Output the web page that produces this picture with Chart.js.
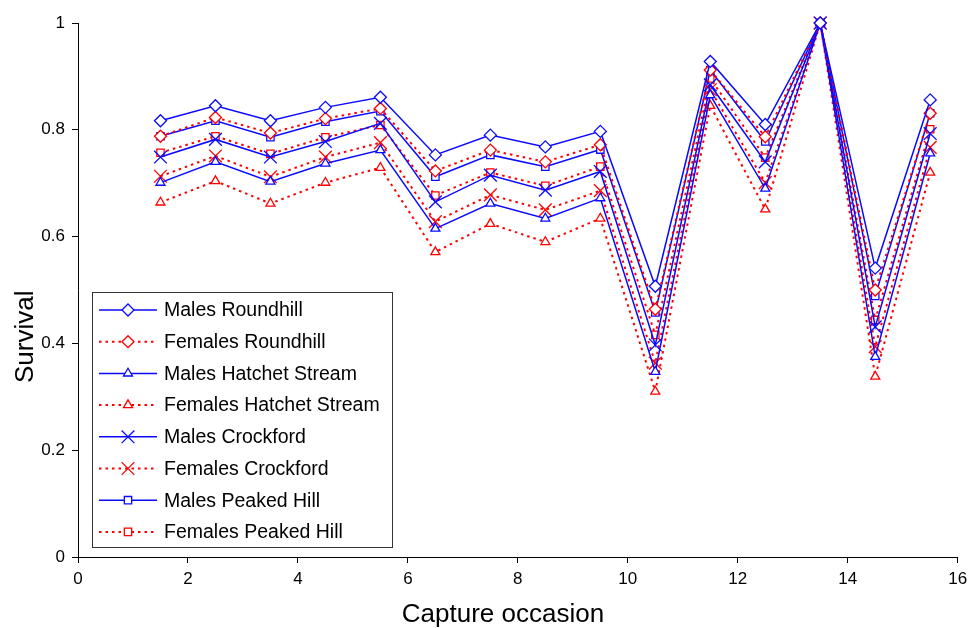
<!DOCTYPE html>
<html>
<head>
<meta charset="utf-8">
<script src="https://cdn.jsdelivr.net/npm/chart.js@4/dist/chart.umd.min.js"></script>
<style>
  html, body { margin: 0; padding: 0; background: #fff; }
</style>
</head>
<body>
<canvas id="survivalChart" width="968" height="628"></canvas>
<script>
const FONT = "'Liberation Sans', Arial, sans-serif";

const occasions = [1.5, 2.5, 3.5, 4.5, 5.5, 6.5, 7.5, 8.5, 9.5, 10.5, 11.5, 12.5, 13.5, 14.5, 15.5];

const malesRoundhill    = [0.817, 0.845, 0.817, 0.842, 0.861, 0.753, 0.790, 0.768, 0.797, 0.507, 0.928, 0.810, 1.0, 0.541, 0.856];
const femalesRoundhill  = [0.788, 0.823, 0.794, 0.821, 0.840, 0.723, 0.762, 0.740, 0.772, 0.464, 0.912, 0.787, 1.0, 0.500, 0.831];
const malesHatchet      = [0.701, 0.740, 0.703, 0.737, 0.762, 0.615, 0.662, 0.634, 0.672, 0.347, 0.865, 0.690, 1.0, 0.375, 0.756];
const femalesHatchet    = [0.664, 0.704, 0.662, 0.701, 0.729, 0.571, 0.624, 0.590, 0.634, 0.310, 0.845, 0.651, 1.0, 0.338, 0.720];
const malesCrockford    = [0.749, 0.782, 0.749, 0.778, 0.812, 0.665, 0.715, 0.687, 0.722, 0.397, 0.884, 0.740, 1.0, 0.431, 0.793];
const femalesCrockford  = [0.713, 0.751, 0.712, 0.749, 0.776, 0.628, 0.678, 0.650, 0.686, 0.363, 0.875, 0.701, 1.0, 0.394, 0.767];
const malesPeakedHill   = [0.788, 0.817, 0.786, 0.815, 0.835, 0.712, 0.753, 0.731, 0.763, 0.458, 0.912, 0.778, 1.0, 0.489, 0.831];
const femalesPeakedHill = [0.757, 0.788, 0.755, 0.786, 0.809, 0.677, 0.720, 0.695, 0.731, 0.416, 0.896, 0.748, 1.0, 0.444, 0.801];

const seriesLabels = [
  "Males Roundhill", "Females Roundhill",
  "Males Hatchet Stream", "Females Hatchet Stream",
  "Males Crockford", "Females Crockford",
  "Males Peaked Hill", "Females Peaked Hill"
];
const seriesValues = [
  malesRoundhill, femalesRoundhill,
  malesHatchet, femalesHatchet,
  malesCrockford, femalesCrockford,
  malesPeakedHill, femalesPeakedHill
];

const BLUE = "#0a0aff";
const RED = "#ff0000";
const markers = [
  { style: "rectRot", radius: 6 },
  { style: "rectRot", radius: 6 },
  { style: "triangle", radius: 5.2 },
  { style: "triangle", radius: 5.2 },
  { style: "crossRot", radius: 9 },
  { style: "crossRot", radius: 9 },
  { style: "rect", radius: 5.2 },
  { style: "rect", radius: 5.2 }
];

function makeDataset(i) {
  const male = i % 2 === 0;
  const color = male ? BLUE : RED;
  return {
    label: seriesLabels[i],
    data: occasions.map((x, j) => ({ x, y: seriesValues[i][j] })),
    borderColor: color,
    backgroundColor: "#fff",
    borderWidth: male ? 1.5 : 2,
    borderDash: male ? [] : [2.5, 4],
    pointStyle: markers[i].style,
    pointRadius: markers[i].radius,
    pointBorderColor: color,
    pointBackgroundColor: "#fff",
    pointBorderWidth: 1.3,
    tension: 0,
    clip: false
  };
}

// axis titles and the boxed legend (line sample + marker), drawn on the canvas
const extrasPlugin = {
  id: "extras",
  afterDraw(chart) {
    const ctx = chart.ctx;
    ctx.save();
    ctx.fillStyle = "#000";
    ctx.font = "26px " + FONT;
    ctx.textAlign = "left";
    ctx.textBaseline = "alphabetic";
    ctx.save();
    ctx.translate(33, 383);
    ctx.rotate(-Math.PI / 2);
    ctx.fillText("Survival", 0, 0);
    ctx.restore();
    ctx.textAlign = "center";
    ctx.fillText("Capture occasion", 503, 622);

    // legend box
    const box = { left: 92.5, top: 292.5, right: 392.5, bottom: 547.5 };
    ctx.fillStyle = "#fff";
    ctx.fillRect(box.left, box.top, box.right - box.left, box.bottom - box.top);
    ctx.strokeStyle = "#333";
    ctx.lineWidth = 1;
    ctx.strokeRect(box.left, box.top, box.right - box.left, box.bottom - box.top);

    chart.data.datasets.forEach((ds, i) => {
      const y = 310 + i * 31.7;
      ctx.strokeStyle = ds.borderColor;
      ctx.lineWidth = ds.borderWidth;
      ctx.setLineDash(ds.borderDash);
      ctx.beginPath();
      ctx.moveTo(99, y);
      ctx.lineTo(157, y);
      ctx.stroke();
      ctx.setLineDash([]);
      ctx.fillStyle = "#fff";
      ctx.lineWidth = ds.pointBorderWidth;
      Chart.helpers.drawPoint(ctx, {
        pointStyle: ds.pointStyle,
        radius: ds.pointRadius,
        rotation: 0,
        borderWidth: ds.pointBorderWidth
      }, 128, y);
      ctx.fillStyle = "#000";
      ctx.font = "19.5px " + FONT;
      ctx.textAlign = "left";
      ctx.textBaseline = "middle";
      ctx.fillText(ds.label, 164, y + 1);
    });
    ctx.restore();
  }
};

const ctx = document.getElementById("survivalChart").getContext("2d");

new Chart(ctx, {
  type: "line",
  data: {
    datasets: seriesValues.map((_, i) => makeDataset(i))
  },
  options: {
    responsive: false,
    animation: false,
    layout: { padding: { top: 23, right: 0, left: 0, bottom: 0 } },
    plugins: {
      legend: { display: false },
      tooltip: { enabled: false }
    },
    scales: {
      x: {
        type: "linear",
        min: 0,
        max: 16,
        ticks: { stepSize: 2, color: "#000", font: { size: 17, family: FONT }, padding: 6 },
        grid: { drawOnChartArea: false, tickLength: 6, color: "#000" },
        border: { color: "#000" },
        afterFit(scale) {
          scale.height = 71;
          scale.paddingLeft = 0;
          scale.paddingRight = 10;
        }
      },
      y: {
        min: 0,
        max: 1,
        ticks: {
          stepSize: 0.2,
          color: "#000",
          font: { size: 17, family: FONT },
          padding: 7,
          callback: v => String(+v.toFixed(1))
        },
        grid: { drawOnChartArea: false, tickLength: 6, color: "#000" },
        border: { color: "#000" },
        afterFit(scale) { scale.width = 78; }
      }
    }
  },
  plugins: [extrasPlugin]
});
</script>
</body>
</html>
